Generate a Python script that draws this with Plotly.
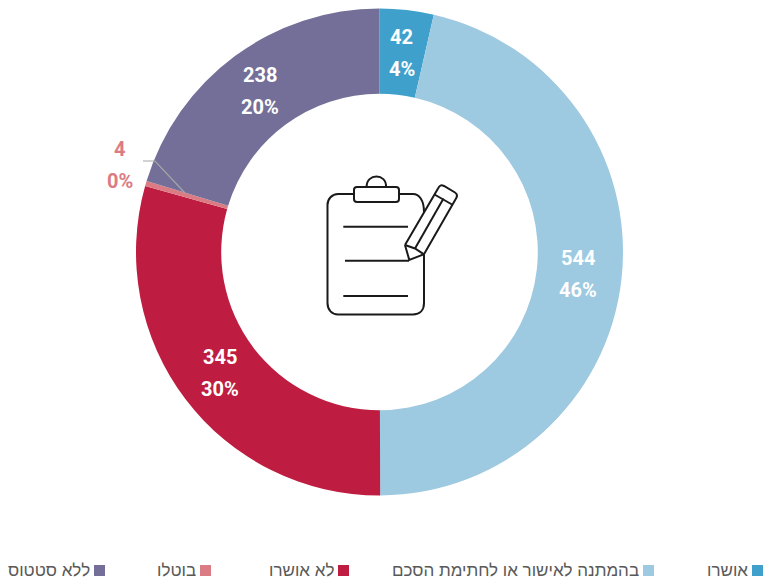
import math
import plotly.graph_objects as go

W, H = 764, 582

categories = ["אושרו", "בהמתנה לאישור או לחתימת הסכם", "לא אושרו", "בוטלו", "ללא סטטוס"]
counts = [42, 544, 345, 4, 238]
percents = ["4%", "46%", "30%", "0%", "20%"]
colors = ["#3FA0CB", "#9DC9E1", "#BE1C40", "#DB7B83", "#736F98"]

VALUE_FONT = "Roboto"
LEGEND_FONT = "Liberation Sans"
CX, CY, R_OUT = 379.5, 252, 243.5
R_LABEL = 200


def px(x):
    return x / W


def py(y):
    return 1 - y / H


def path(points, close=False):
    """SVG path through pixel points, in paper coordinates."""
    d = "M" + " L".join(f"{px(x):.5f},{py(y):.5f}" for x, y in points)
    return d + (" Z" if close else "")


fig = go.Figure(
    go.Pie(
        labels=categories,
        values=counts,
        marker=dict(colors=colors, line=dict(width=0)),
        hole=0.65,
        sort=False,
        direction="clockwise",
        rotation=0,
        textinfo="none",
        showlegend=False,
        domain=dict(
            x=[px(CX - R_OUT), px(CX + R_OUT)],
            y=[py(CY + R_OUT), py(CY - R_OUT)],
        ),
    )
)

annotations = []
shapes = []


def text(x, y, s, color, size, family, bold=False, anchor="center"):
    annotations.append(
        dict(
            x=px(x), y=py(y), xref="paper", yref="paper",
            text=f"<b>{s}</b>" if bold else s,
            showarrow=False, xanchor=anchor, yanchor="middle",
            font=dict(family=family, size=size, color=color),
        )
    )


# Count and share on each ring segment, the tiny one outside with a leader
total = sum(counts)
running = 0
for count, pct, color in zip(counts, percents, colors):
    mid = (running + count / 2) / total * 2 * math.pi
    running += count
    if count / total < 0.01:
        text(119, 149, str(count), color, 20, VALUE_FONT, True)
        text(120, 181, pct, color, 20, VALUE_FONT, True)
        continue
    lx = CX + R_LABEL * math.sin(mid)
    ly = CY - R_LABEL * math.cos(mid)
    text(lx, ly - 16, str(count), "white", 20, VALUE_FONT, True)
    text(lx, ly + 16, pct, "white", 20, VALUE_FONT, True)

shapes.append(
    dict(type="path", xref="paper", yref="paper",
         path=path([(143, 161), (155, 161), (185, 193)]),
         line=dict(color="#A6A6A6", width=1.2))
)

# Legend row, each swatch to the right of its label
swatch_left = [752, 643, 338, 200, 94]
for left, name, color in zip(swatch_left, categories, colors):
    shapes.append(
        dict(type="rect", xref="paper", yref="paper",
             x0=px(left), x1=px(left + 11), y0=py(576), y1=py(565),
             fillcolor=color, line=dict(width=0))
    )
    text(left - 2, 570, name, "#595959", 17, LEGEND_FONT, anchor="right")

# Clipboard and pencil in the middle of the ring
ICON = dict(color="#1A1A1A", width=2)


def stroke(d):
    shapes.append(dict(type="path", xref="paper", yref="paper", path=d, line=ICON))


def curve(start, *segments):
    d = f"M{px(start[0]):.5f},{py(start[1]):.5f}"
    for seg in segments:
        if len(seg) == 3:
            d += " C" + " ".join(f"{px(a):.5f},{py(b):.5f}" for a, b in seg)
        else:
            d += f" L{px(seg[0][0]):.5f},{py(seg[0][1]):.5f}"
    return d


# board outline, open where the pencil crosses it
stroke(curve(
    (354, 194), [(338, 194)],
    [(332, 194), (327.5, 199), (327.5, 205)],
    [(327.5, 303)],
    [(327.5, 310), (332, 314.5), (338, 314.5)],
    [(413, 314.5)],
    [(420, 314.5), (424, 310), (424, 303)],
    [(424, 255)],
))
stroke(curve((399, 194), [(413, 194)], [(419, 194), (424, 200), (424, 212)]))
# clip
stroke(curve(
    (357, 187), [(396, 187)],
    [(398, 187), (399, 188), (399, 190)],
    [(399, 199)],
    [(399, 201), (398, 202), (396, 202)],
    [(357, 202)],
    [(355, 202), (354, 201), (354, 199)],
    [(354, 190)],
    [(354, 188), (355, 187), (357, 187)],
))
stroke(curve((366.7, 187), [(366, 173), (387, 173), (386, 187)]))
# written lines
stroke(path([(343.3, 226.7), (408, 226.7)]))
stroke(path([(345, 260.7), (409, 260.7)]))
stroke(path([(343.3, 296), (408, 296)]))
# pencil
stroke(curve(
    (405, 245), [(438, 188.5)],
    [(439.5, 185.5), (441, 184.5), (444, 186)],
    [(455, 192.5)],
    [(457.5, 194), (457.5, 196), (456, 198.5)],
    [(424, 254.3)],
    [(409.3, 260)],
    [(405, 245)],
))
stroke(path([(434.5, 194.5), (452, 204.5)]))
stroke(path([(443.5, 198.5), (415, 248.5)]))
stroke(path([(405, 245), (415, 248.5), (424, 254.3)]))

fig.update_layout(
    width=W, height=H,
    margin=dict(l=0, r=0, t=0, b=0),
    paper_bgcolor="white",
    annotations=annotations,
    shapes=shapes,
)

fig.write_html("out.html", config=dict(displayModeBar=False))
